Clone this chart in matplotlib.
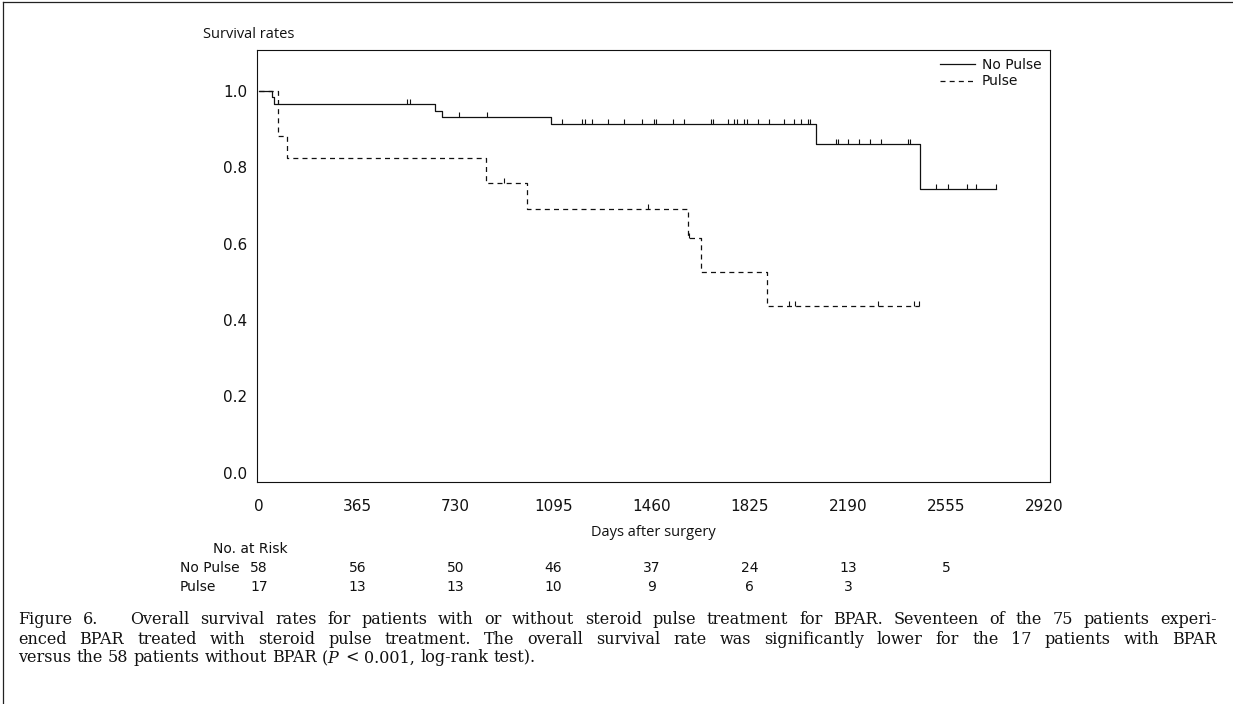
"""
Kaplan-Meier style survival chart: No Pulse vs Pulse (Figure 6).
Saves out.png at 1233x704.
"""

import re
import numpy as np
import matplotlib
matplotlib.use("Agg")
import matplotlib.pyplot as plt
from matplotlib.lines import Line2D
from matplotlib.transforms import blended_transform_factory

# ── Data ──────────────────────────────────────────────────────────────────────
# No Pulse: day of each step and survival after it
no_pulse_days = [0, 48, 56, 655, 681, 1086, 2071, 2458]
no_pulse_surv = [1.0, 0.983, 0.966, 0.948, 0.931, 0.914, 0.860, 0.743]
no_pulse_censor = [551, 562, 744, 848, 1127, 1202, 1212, 1239, 1298, 1356,
                   1426, 1467, 1475, 1538, 1579, 1680, 1687, 1743, 1765, 1776,
                   1802, 1814, 1855, 1896, 1951, 1989, 2015, 2041, 2048, 2145,
                   2152, 2190, 2231, 2272, 2313, 2413, 2421, 2518, 2562, 2633,
                   2666, 2741]
no_pulse_end = 2741

# Pulse
pulse_days = [0, 71, 104, 845, 998, 1594, 1642, 1891]
pulse_surv = [1.0, 0.882, 0.824, 0.760, 0.691, 0.614, 0.526, 0.438]
pulse_censor = [912, 1445, 1598, 1970, 1995, 2302, 2436, 2454]
pulse_end = 2454

# Number at risk table
risk_days = [0, 365, 730, 1095, 1460, 1825, 2190, 2555]
risk_no_pulse = [58, 56, 50, 46, 37, 24, 13, 5]
risk_pulse = [17, 13, 13, 10, 9, 6, 3]

x_ticks = [0, 365, 730, 1095, 1460, 1825, 2190, 2555, 2920]
y_ticks = [0.0, 0.2, 0.4, 0.6, 0.8, 1.0]

caption_lines = [
    ("Figure 6.   Overall survival rates for patients with or without steroid "
     "pulse treatment for BPAR. Seventeen of the 75 patients experi-", True),
    ("enced BPAR treated with steroid pulse treatment. The overall survival "
     "rate was significantly lower for the 17 patients with BPAR", True),
    ("versus the 58 patients without BPAR ($P$ < 0.001, log-rank test).", False),
]

# ── Figure setup ──────────────────────────────────────────────────────────────
W, H = 1233, 704
DPI = 100
plt.rcParams['lines.scale_dashes'] = False
plt.rcParams['mathtext.fontset'] = 'dejavuserif'

fig = plt.figure(figsize=(W / DPI, H / DPI), dpi=DPI, facecolor='white')

# axes box in pixels: left 257, right 1050, top 50, bottom 482
ax = fig.add_axes([257 / W, 1 - 482 / H, (1050 - 257) / W, (482 - 50) / H])
ax.set_xlim(-8, 2942)
ax.set_ylim(-0.024, 1.107)

for sp in ax.spines.values():
    sp.set_linewidth(0.8)
    sp.set_color('#111111')

TICK_FONT = dict(family='DejaVu Sans', size=11, color='#111111')
ax.set_xticks(x_ticks)
ax.set_xticklabels([str(t) for t in x_ticks], **TICK_FONT)
ax.set_yticks(y_ticks)
ax.set_yticklabels([f"{t:.1f}" for t in y_ticks], **TICK_FONT)
ax.tick_params(axis='both', length=0)
ax.tick_params(axis='x', pad=12)
ax.tick_params(axis='y', pad=7)

DASH = (3.6, 3.0)
LW = 0.9


def surv_at(days, surv, t):
    i = np.searchsorted(days, t, side='right') - 1
    return surv[i]


censor_marker = [(0, 0), (0, 1)]   # short tick that sits on top of the line

# ── Curves ────────────────────────────────────────────────────────────────────
x1 = no_pulse_days + [no_pulse_end]
y1 = no_pulse_surv + [no_pulse_surv[-1]]
line_np, = ax.step(x1, y1, where='post', color='#111111', lw=LW,
                   label='No Pulse')
ax.plot(no_pulse_censor,
        [surv_at(no_pulse_days, no_pulse_surv, t) for t in no_pulse_censor],
        linestyle='none', marker=censor_marker, markersize=7,
        markeredgewidth=0.8, markeredgecolor='#111111', markerfacecolor='none')

x2 = pulse_days + [pulse_end]
y2 = pulse_surv + [pulse_surv[-1]]
line_p, = ax.step(x2, y2, where='post', color='#111111', lw=LW,
                  dashes=DASH, label='Pulse')
ax.plot(pulse_censor,
        [surv_at(pulse_days, pulse_surv, t) for t in pulse_censor],
        linestyle='none', marker=censor_marker, markersize=7,
        markeredgewidth=0.8, markeredgecolor='#111111', markerfacecolor='none')

leg = ax.legend(handles=[line_np, line_p], loc='upper right',
                bbox_to_anchor=(1.0, 1.0), frameon=False, borderaxespad=0,
                borderpad=0.6, handlelength=2.5, handletextpad=0.5,
                labelspacing=0.15, prop=dict(family='DejaVu Sans', size=10))
for t in leg.get_texts():
    t.set_color('#111111')

# ── Axis titles ───────────────────────────────────────────────────────────────
fig.text(203 / W, 1 - 35 / H, 'Survival rates', ha='left', va='center',
         family='Open Sans', fontsize=10.5, color='#111111')
fig.text(653.5 / W, 1 - 532 / H, 'Days after surgery', ha='center',
         va='center', family='Open Sans', fontsize=10.5, color='#111111')

# ── Number at risk table ──────────────────────────────────────────────────────
RISK_FONT = dict(family='DejaVu Sans', fontsize=10, color='#111111')
fig.text(213 / W, 1 - 549 / H, 'No. at Risk', ha='left', va='center',
         **RISK_FONT)
fig.text(180 / W, 1 - 568 / H, 'No Pulse', ha='left', va='center',
         **RISK_FONT)
fig.text(180 / W, 1 - 587 / H, 'Pulse', ha='left', va='center', **RISK_FONT)

trans = blended_transform_factory(ax.transData, fig.transFigure)
for d, n in zip(risk_days, risk_no_pulse):
    ax.text(d, 1 - 568 / H, str(n), transform=trans, ha='center',
            va='center', **RISK_FONT)
for d, n in zip(risk_days, risk_pulse):
    ax.text(d, 1 - 587 / H, str(n), transform=trans, ha='center',
            va='center', **RISK_FONT)

# ── Caption (justified like the journal page) ────────────────────────────────
CAP_FONT = dict(family='DejaVu Serif', fontsize=11.5, color='#111111')
renderer = fig.canvas.get_renderer()
space_w = 0.318 * CAP_FONT['fontsize'] * DPI / 72
CAP_X0, CAP_X1 = 18, 1217
cap_y = [620, 639, 658]


def place_line(text, y_px, justify):
    words = text.split()
    gaps = [len(g) for g in re.findall(r' +', text.strip())]
    objs = [fig.text(0, 1 - y_px / H, w, ha='left', va='center', **CAP_FONT)
            for w in words]
    widths = [o.get_window_extent(renderer).width for o in objs]
    unit = space_w
    if justify and gaps:
        unit = max((CAP_X1 - CAP_X0 - sum(widths)) / sum(gaps), 0.5 * space_w)
    x = CAP_X0
    for i, (o, w) in enumerate(zip(objs, widths)):
        o.set_x(x / W)
        if i < len(gaps):
            x += w + unit * gaps[i]


for (txt, just), yy in zip(caption_lines, cap_y):
    place_line(txt, yy, just)

# ── Page frame ────────────────────────────────────────────────────────────────
fig.add_artist(Line2D([3 / W, 3 / W], [0, 1 - 2 / H], transform=fig.transFigure,
                      color='#222222', lw=0.9))
fig.add_artist(Line2D([3 / W, 1], [1 - 2 / H, 1 - 2 / H],
                      transform=fig.transFigure, color='#222222', lw=0.9))

fig.savefig('out.png', dpi=DPI, facecolor='white')
